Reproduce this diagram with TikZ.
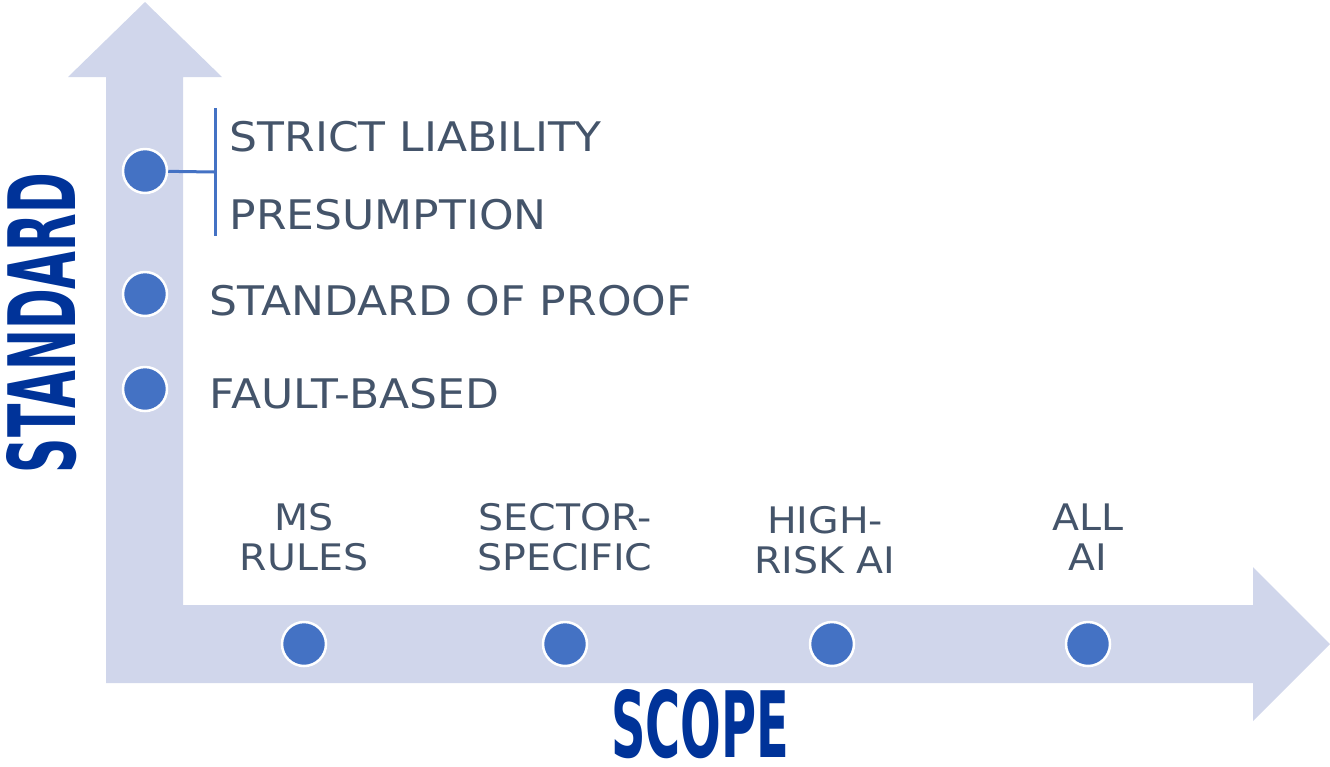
\documentclass[tikz,border=0pt]{standalone}
\usepackage{fontspec}
\setmainfont{DejaVu Sans}[FakeStretch=1.08]
\newfontfamily\axisfont{DejaVu Sans Condensed Bold}
\usetikzlibrary{positioning}

\definecolor{axisfill}{HTML}{D0D6EB}
\definecolor{dotblue}{HTML}{4472C4}
\definecolor{labelgray}{HTML}{44546A}
\definecolor{axisblue}{HTML}{003399}

\tikzset{
  dot/.style={circle, fill=dotblue, draw=white, line width=0.25mm, minimum size=4.4mm, inner sep=0pt},
  bracket/.style={draw=dotblue, line width=0.3mm},
  stdlabel/.style={anchor=west, inner sep=0pt, text=labelgray, font=\fontsize{11.6pt}{14pt}\selectfont},
  scopelabel/.style={align=center, inner sep=0pt, text=labelgray, font=\fontsize{10.4pt}{11.4pt}\selectfont},
  axistitle/.style={inner sep=0pt, text=axisblue, font=\axisfont}
}

\begin{document}
\begin{tikzpicture}[x=0.1mm, y=-0.1mm]
\useasboundingbox (0,0) rectangle (1330,766);
\fill[axisfill] (106,683) -- (106,77) -- (68,77) -- (145,2) -- (222,77) -- (183,77)
  -- (183,605) -- (1253,605) -- (1253,567) -- (1330,644) -- (1253,721) -- (1253,683) -- cycle;

\node[dot] (strict) at (145,171) {};
\node[dot] (proof) at (145,294) {};
\node[dot] (fault) at (145,389) {};

\node[dot] (ms) at (304,644) {};
\node[dot] (sector) at (565,644) {};
\node[dot] (highrisk) at (832,644) {};
\node[dot] (allai) at (1088,644) {};

\coordinate (brk) at (215,172);
\coordinate (brktop) at (215,108);
\coordinate (brkbot) at (215,236);
\draw[bracket] (strict) -- (brk);
\draw[bracket] (brktop) -- (brkbot);

\node[stdlabel] (strictlbl) at (229,137) {STRICT LIABILITY};
\node[stdlabel] (presumlbl) at (229,215) {PRESUMPTION};
\node[stdlabel] (prooflbl) at (209,301) {STANDARD OF PROOF};
\node[stdlabel] (faultlbl) at (209,394) {FAULT-BASED};

\node[scopelabel] (mslbl) at (304,537) {MS\\RULES};
\node[scopelabel] (sectorlbl) at (565,537) {SECTOR-\\SPECIFIC};
\node[scopelabel] (highrisklbl) at (825,540) {HIGH-\\RISK AI};
\node[scopelabel] (allailbl) at (1088,537) {ALL\\AI};

\node[axistitle, rotate=90] (stdtitle) at (42,323) {\resizebox{30mm}{6.9mm}{STANDARD}};
\node[axistitle] (scopetitle) at (700,724) {\resizebox{17.8mm}{6.8mm}{SCOPE}};
\end{tikzpicture}
\end{document}
